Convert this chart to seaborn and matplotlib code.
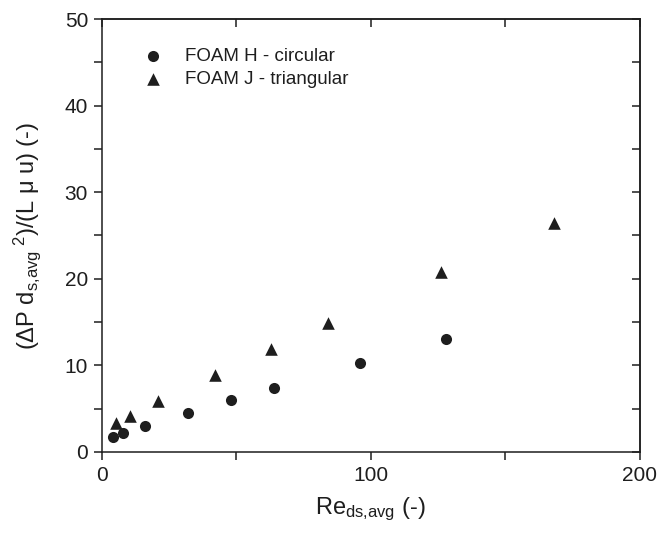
import matplotlib
matplotlib.use("Agg")
import matplotlib.pyplot as plt
from matplotlib.ticker import MultipleLocator
import seaborn as sns
import pandas as pd

# Data
re_circ = [4, 8, 16, 32, 48, 64, 96, 128]
dp_circ = [1.7, 2.2, 3.0, 4.5, 6.0, 7.4, 10.3, 13.0]
re_tri = [5.2, 10.4, 21, 42, 63, 84, 126, 168]
dp_tri = [3.4, 4.2, 5.9, 8.9, 11.9, 14.9, 20.8, 26.4]
lab_circ = "FOAM H - circular"
lab_tri = "FOAM J - triangular"

sns.set_theme(style="ticks")
plt.rcParams["font.family"] = ["Liberation Sans", "DejaVu Sans"]
plt.rcParams["mathtext.fontset"] = "custom"
plt.rcParams["mathtext.rm"] = "Liberation Sans"
plt.rcParams["mathtext.it"] = "Liberation Sans:italic"
plt.rcParams["mathtext.bf"] = "Liberation Sans:bold"

ink = "#1e1e1e"
df_c = pd.DataFrame({"x": re_circ, "y": dp_circ, "series": lab_circ})
df_t = pd.DataFrame({"x": re_tri, "y": dp_tri, "series": lab_tri})

fig = plt.figure(figsize=(6.61, 5.34), dpi=100)
ax = fig.add_axes([0.1543, 0.1536, 0.8132, 0.8108])

sns.scatterplot(data=df_c, x="x", y="y", marker="o", s=64, color=ink,
                edgecolor=ink, linewidth=0, label=lab_circ, ax=ax)
sns.scatterplot(data=df_t, x="x", y="y", marker="^", s=82, color=ink,
                edgecolor=ink, linewidth=0, label=lab_tri, ax=ax)

ax.set_xlim(0, 200)
ax.set_ylim(0, 50)
ax.xaxis.set_major_locator(MultipleLocator(100))
ax.xaxis.set_minor_locator(MultipleLocator(50))
ax.yaxis.set_major_locator(MultipleLocator(10))
ax.yaxis.set_minor_locator(MultipleLocator(5))
ax.tick_params(which="both", direction="out", length=6, width=1.1,
               color=ink, labelsize=15, labelcolor=ink, pad=4)
for sp in ax.spines.values():
    sp.set_visible(True)
    sp.set_linewidth(1.1)
    sp.set_color(ink)

# mirrored inward ticks on top and right
top = ax.secondary_xaxis("top")
top.xaxis.set_major_locator(MultipleLocator(50))
top.tick_params(direction="in", length=6, width=1.1, color=ink, labeltop=False)
top.spines["top"].set_color(ink)
top.spines["top"].set_linewidth(1.1)
right = ax.secondary_yaxis("right")
right.yaxis.set_major_locator(MultipleLocator(5))
right.tick_params(direction="in", length=6, width=1.1, color=ink, labelright=False)
right.spines["right"].set_color(ink)
right.spines["right"].set_linewidth(1.1)

ax.set_xlabel(r"Re$_{\mathregular{ds{,}avg}}$ (-)", fontsize=17, color=ink, labelpad=8)
ax.set_ylabel(r"(ΔP d$_{\mathregular{s{,}avg}}$$^{\mathregular{\ 2}}$)/(L μ u) (-)",
              fontsize=17, color=ink, labelpad=16)

leg = ax.legend(loc="upper left", bbox_to_anchor=(0.063, 0.951), frameon=False,
                fontsize=13.5, handletextpad=1.2, handlelength=1.0,
                labelspacing=0.33, borderaxespad=0)
for t in leg.get_texts():
    t.set_color(ink)

fig.savefig("out.png", dpi=100)
